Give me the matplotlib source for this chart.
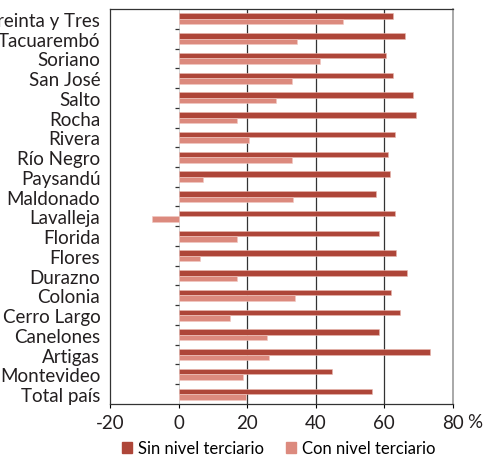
import numpy as np
import matplotlib
matplotlib.use("Agg")
import matplotlib.pyplot as plt
from matplotlib.patches import Patch

plt.rcParams['font.family'] = ['Lato', 'DejaVu Sans']

# categories top -> bottom
cats = ["Treinta y Tres", "Tacuarembó", "Soriano", "San José", "Salto", "Rocha",
        "Rivera", "Río Negro", "Paysandú", "Maldonado", "Lavalleja", "Florida",
        "Flores", "Durazno", "Colonia", "Cerro Largo", "Canelones", "Artigas",
        "Montevideo", "Total país"]
sin_ter = [62.7, 66.2, 60.6, 62.7, 68.3, 69.3, 63.2, 61.1, 61.6, 57.5,
           63.2, 58.6, 63.6, 66.7, 62.1, 64.6, 58.5, 73.3, 44.8, 56.5]
con_ter = [47.9, 34.5, 41.2, 33.1, 28.4, 17.1, 20.7, 33.0, 7.0, 33.5,
           -7.8, 17.1, 6.4, 17.1, 34.1, 15.1, 25.9, 26.4, 18.8, 19.7]
xticks = [-20, 0, 20, 40, 60, 80]

DARK = "#ae4639"
LIGHT = "#dc8a7e"
TXT = "#231f20"

fig = plt.figure(figsize=(4.85, 4.56), dpi=100)
ax = fig.add_axes([0.2268, 0.112, 0.7066, 0.866])

n = len(cats)
y = np.arange(n)[::-1].astype(float)
h = 0.28
ax.barh(y + h / 2, sin_ter, height=h, color=DARK, edgecolor="#e9b8b0", linewidth=0.4, zorder=3)
ax.barh(y - h / 2, con_ter, height=h, color=LIGHT, edgecolor="#f1c9c3", linewidth=0.4, zorder=3)

ax.set_xlim(-20, 80)
ax.set_ylim(-0.5, n - 0.5)
for g in (20, 40, 60):
    ax.axvline(g, color="#333333", lw=0.9, zorder=1)
ax.axvline(0, color="#cccccc", lw=0.6, zorder=1)
# category separators as small ticks on the zero line
ax.hlines(np.arange(n - 1) + 0.5, -1.1, 0, color="#333333", lw=0.9, zorder=2)

ax.set_yticks(y)
ax.set_yticklabels(cats, fontsize=13.5, color=TXT)
ax.tick_params(axis="y", length=0, pad=7)
ax.set_xticks(xticks)
ax.set_xticklabels([str(t) for t in xticks], fontsize=13.5, color=TXT)
ax.tick_params(axis="x", length=3, width=0.8, pad=4)
ax.text(1.065, -0.024, "%", transform=ax.transAxes, fontsize=13.5, color=TXT,
        ha="center", va="top")

for s in ("left", "top", "bottom"):
    ax.spines[s].set_color("#333333")
    ax.spines[s].set_linewidth(0.9)
ax.spines["right"].set_color("#999999")
ax.spines["right"].set_linewidth(1.2)

handles = [Patch(color=DARK, label="Sin nivel terciario"),
           Patch(color=LIGHT, label="Con nivel terciario")]
fig.legend(handles=handles, loc="lower center", bbox_to_anchor=(0.575, -0.036), ncol=2,
           frameon=False, fontsize=12, handlelength=0.6, handleheight=0.6,
           handletextpad=0.36, columnspacing=1.3)

fig.savefig("out.png", dpi=100)
